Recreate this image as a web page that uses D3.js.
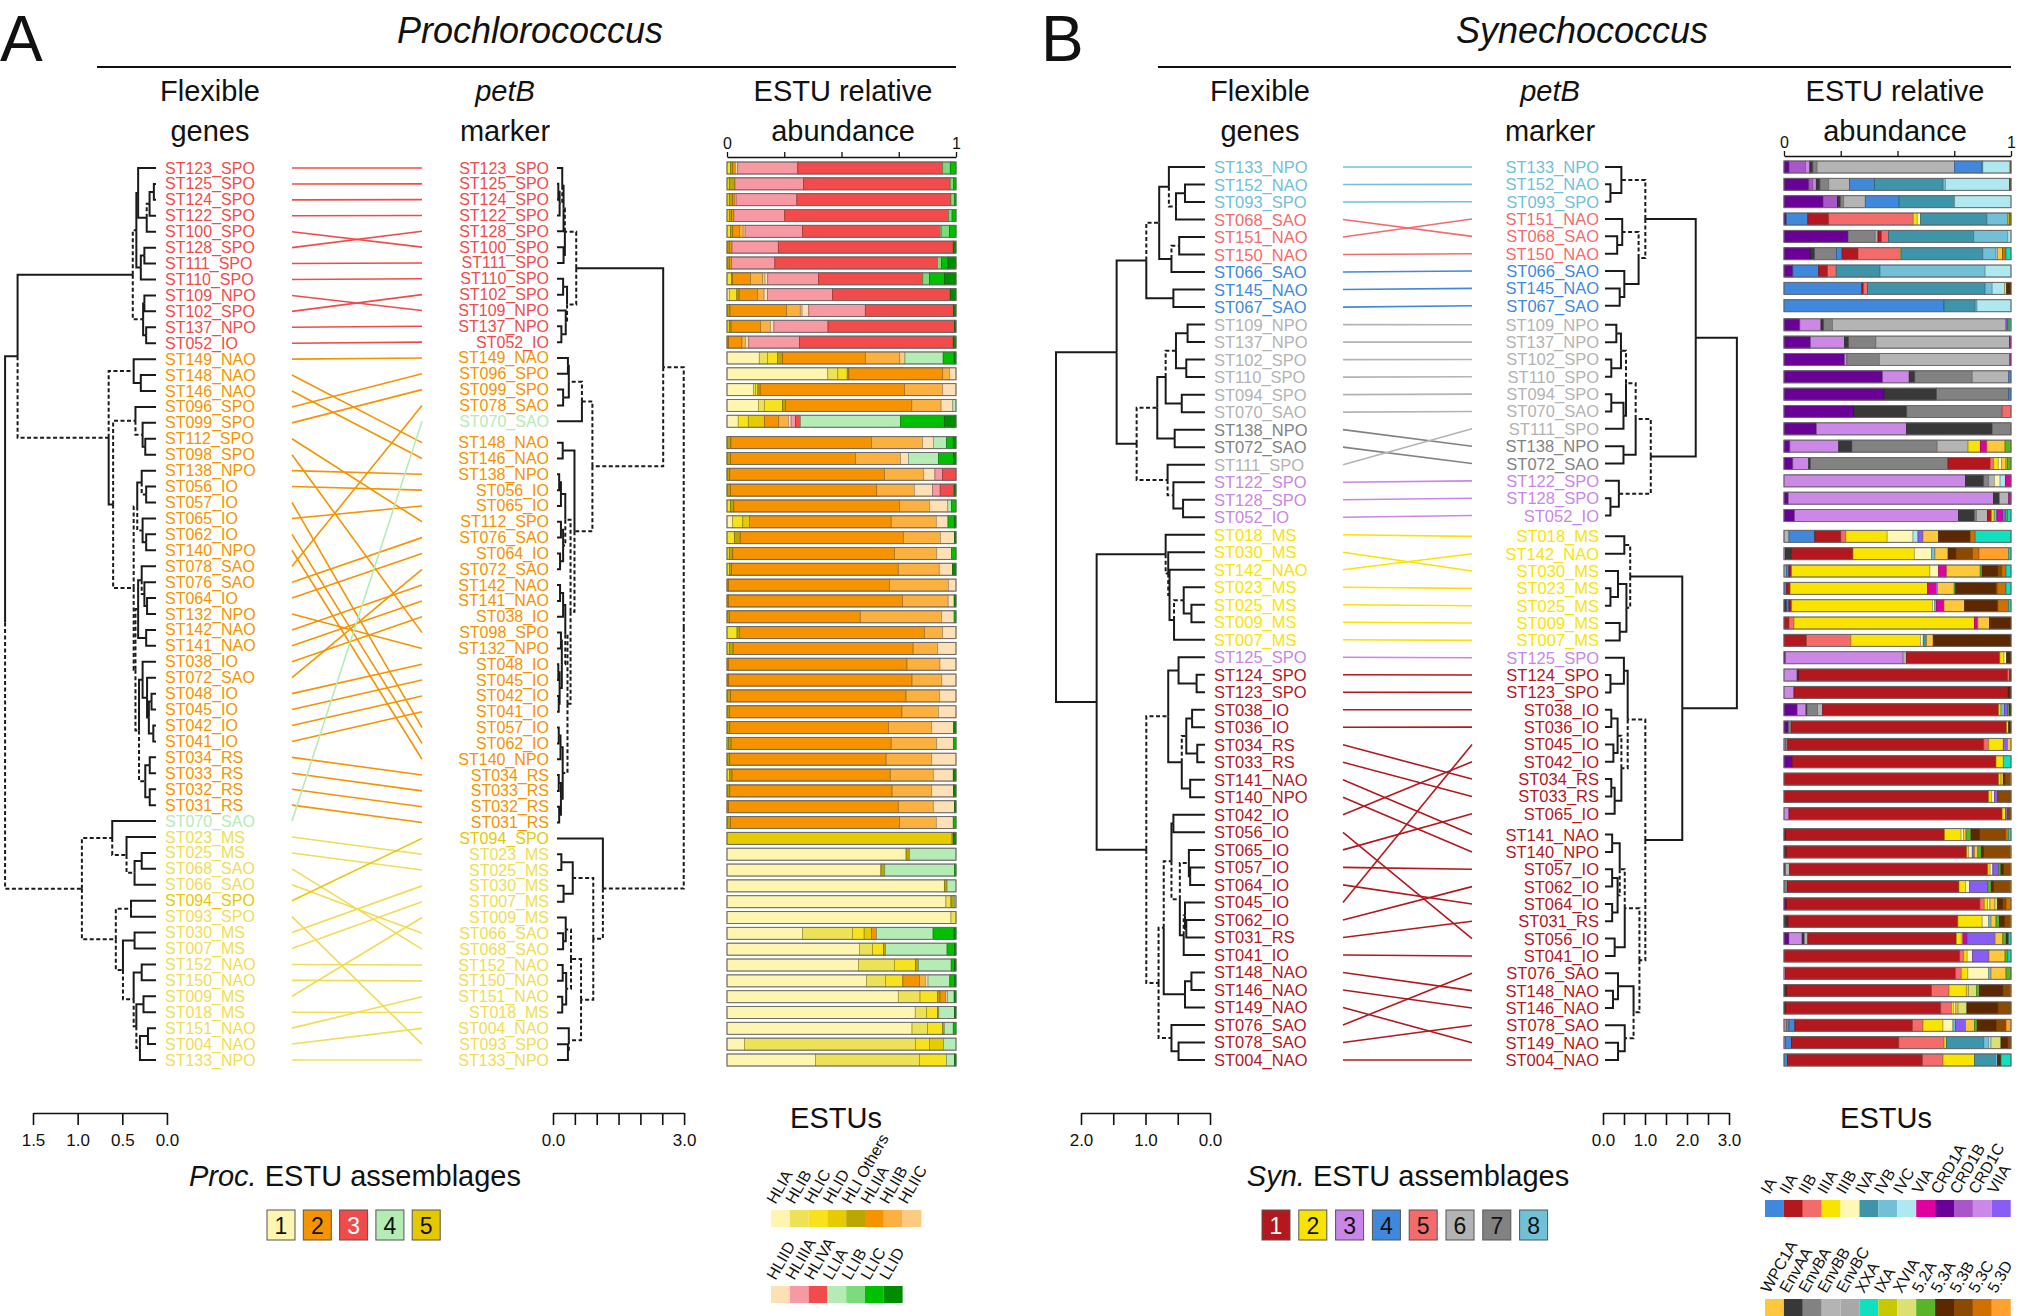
<!DOCTYPE html>
<html>
<head>
<meta charset="utf-8">
<script src="https://cdn.jsdelivr.net/npm/d3@7"></script>
<style>
  body { margin: 0; background: #fff; }
  svg { font-family: "Liberation Sans", Arial, sans-serif; }
</style>
</head>
<body>
<svg id="fig" width="2025" height="1316"></svg>
<script>
// ---------- DATA ----------

// Prochlorococcus: station order of the two trees
const PROC_LEFT = ["ST123_SPO","ST125_SPO","ST124_SPO","ST122_SPO","ST100_SPO","ST128_SPO","ST111_SPO","ST110_SPO","ST109_NPO","ST102_SPO","ST137_NPO","ST052_IO",
  "ST149_NAO","ST148_NAO","ST146_NAO","ST096_SPO","ST099_SPO","ST112_SPO","ST098_SPO","ST138_NPO","ST056_IO","ST057_IO","ST065_IO","ST062_IO","ST140_NPO",
  "ST078_SAO","ST076_SAO","ST064_IO","ST132_NPO","ST142_NAO","ST141_NAO","ST038_IO","ST072_SAO","ST048_IO","ST045_IO","ST042_IO","ST041_IO",
  "ST034_RS","ST033_RS","ST032_RS","ST031_RS","ST070_SAO","ST023_MS","ST025_MS","ST068_SAO","ST066_SAO","ST094_SPO","ST093_SPO","ST030_MS","ST007_MS",
  "ST152_NAO","ST150_NAO","ST009_MS","ST018_MS","ST151_NAO","ST004_NAO","ST133_NPO"];
const PROC_LEFT_GROUP = [3,3,3,3,3,3,3,3,3,3,3,3,
  2,2,2,2,2,2,2,2,2,2,2,2,2, 2,2,2,2,2,2,2,2,2,2,2,2, 2,2,2,2,
  4, 1,1,1,1, 5, 1,1,1,1,1,1,1,1,1,1];
const PROC_RIGHT = ["ST123_SPO","ST125_SPO","ST124_SPO","ST122_SPO","ST128_SPO","ST100_SPO","ST111_SPO","ST110_SPO","ST102_SPO","ST109_NPO","ST137_NPO","ST052_IO",
  "ST149_NAO","ST096_SPO","ST099_SPO","ST078_SAO","ST070_SAO","ST148_NAO","ST146_NAO","ST138_NPO","ST056_IO","ST065_IO","ST112_SPO","ST076_SAO","ST064_IO",
  "ST072_SAO","ST142_NAO","ST141_NAO","ST038_IO","ST098_SPO","ST132_NPO","ST048_IO","ST045_IO","ST042_IO","ST041_IO","ST057_IO","ST062_IO","ST140_NPO",
  "ST034_RS","ST033_RS","ST032_RS","ST031_RS","ST094_SPO","ST023_MS","ST025_MS","ST030_MS","ST007_MS","ST009_MS","ST066_SAO","ST068_SAO",
  "ST152_NAO","ST150_NAO","ST151_NAO","ST018_MS","ST004_NAO","ST093_SPO","ST133_NPO"];
const PROC_RIGHT_GAPS = [[17, 0.35]];

// trees: [height, dashed, child, child], leaves = row number (1-based)
const PROC_LEFT_TREE =
[1.69,0,
  [1.55,0,
    [0.26,0,
      [0.22,1,
        [0.2,0, 1, [0.104,0, [0.072,1, [0.024,0,2,3], 4], 5]],
        [0.17,0, [0.13,0,6,7], 8]],
      [0.144,1, [0.13,0,9,10], [0.11,0,11,12]]],
    [0.53,1,
      [0.25,1, 13, [0.17,0,14,15]],
      [0.48,0,
        [0.23,1, 16, [0.15,1, 17, [0.12,0,18,19]]],
        [0.25,1,
          [0.21,1, [0.16,0, 20, [0.11,1,21,22]], [0.15,1, 23, [0.11,0,24,25]]],
          [0.23,1,
            [0.2,1, [0.16,0, 26, [0.13,1, 27, [0.1,0,28,29]]], [0.11,0,30,31]],
            [0.19,1,
              [0.15,0, 32, [0.1,0, 33, [0.08,0, [0.05,0,34,35], [0.03,0,36,37]]]],
              [0.12,1, [0.07,0,38,39], [0.07,0,40,41]]]]]]]],
  [0.83,1,
    [0.49,1, 42, [0.33,1, 43, [0.24,1, [0.16,0,44,45], 46]]],
    [0.45,1,
      [0.28,1,47,48],
      [0.37,1, [0.24,0,49,50],
        [0.25,1, [0.16,0,51,52],
          [0.22,1, [0.14,0,53,54], [0.18,1, [0.09,0,55,56], 57]]]]]]];

const PROC_RIGHT_TREE =
[2.9,0,
  [2.43,1,
    [0.44,0,
      [0.18,1,
        [0.15,1, [0.12,0, 1, [0.06,1, [0.03,0,2,3], 4]], 5],
        [0.15,0,6,7]],
      [0.23,1, [0.14,0,8,9], [0.2,1, 10, [0.1,0,11,12]]]],
    [0.81,1,
      [0.57,1, [0.27,1, [0.25,0,13,14], [0.14,0,15,16]], 17],
      [0.4,1,
        [0.13,0,18,19],
        [0.31,1,
          [0.19,1, [0.09,0, [0.05,0,20,21], 22], [0.14,1, [0.09,0,23,24], [0.07,0,25,26]]],
          [0.24,1,
            [0.19,1, [0.14,0, [0.07,0,27,28], 29], [0.11,1, [0.09,0,30,31], [0.06,0, [0.03,0,32,33], [0.04,0,34,35]]]],
            [0.13,1, [0.08,0, [0.04,0,36,37], 38], [0.09,0, [0.04,0,39,40], [0.05,0,41,42]]]]]]]],
  [1.05,1,
    43,
    [0.83,1,
      [0.36,1, [0.1,0,44,45], [0.15,0,46,47]],
      [0.55,1,
        [0.32,1, [0.2,1, 48, [0.14,0,49,50]], [0.21,1, [0.13,0,51,52], [0.12,0,53,54]]],
        [0.27,1, 55, [0.25,1,56,57]]]]]];

const PROC_GROUP_COLORS = ["#FDF6B0", "#F59300", "#F04B4B", "#B5EBB5", "#E6C800"];
const PROC_TEXT_COLORS  = ["#F0DC55", "#F59300", "#F04B4B", "#B5EBB5", "#E6C800"];

const PROC_ESTU = ["HLIA","HLIB","HLIC","HLID","HLI Others","HLIIA","HLIIB","HLIIC",
                   "HLIID","HLIIIA","HLIVA","LLIA","LLIB","LLIC","LLID"];
const PROC_ESTU_COLORS = ["#FDF5B0","#EDE157","#F8E21E","#E6CB00","#BBA600","#F59300","#FBB03F","#FDCB80",
                          "#FDE0B6","#F799A2","#F24B4B","#B5EBB5","#7CDB7C","#00C000","#008C00"];
const PROC_LEGEND_ROWS = [8, 7];

// relative abundance (%) per petB-ordered station, ESTU order as PROC_ESTU
const PROC_BARS = [
  [0,0,1.5,0,1,1.2,0,0,1,26.2,63.3,0,3.3,2.5,0],
  [0,0,1,0,2.5,0,0,0,0,30,64,0,1.5,1,0],
  [0,0,1,0,1.5,1,0,0,0.5,26.5,67.3,0,1.5,0.7,0],
  [0,0,1,0,1,1,0,0,0,22.2,71.6,0,1.5,1.7,0],
  [0,0,1.5,0,1,2.9,1.7,0,0.8,25,60.3,0.5,3.4,2.9,0],
  [0,0,0,0,1,1.2,0,0,0,20.2,76.4,0,0,0,1.2],
  [0,0,0,0,1,1,0,0,0,18.9,71,0,1.7,2.9,3.5],
  [0,0,1.9,0,0.6,7.7,5.4,1,1.2,22.1,45.6,0,2.9,6.6,5],
  [1,0,3.3,0,1,8,2.9,0,1.5,28.4,51.4,0,0,0,2.5],
  [0,0,0,0,1.3,24.7,6,0.8,2.9,24.7,38.6,0,0,0,1],
  [0,0,1,0,0.8,12.8,4.4,0,1.5,23.6,55.3,0,0,0,0.6],
  [0,0,0,0,0.7,5.8,1.5,0,1.5,22.1,67.2,0,0,0,1.2],
  [14.1,3.6,4.4,0,2.2,36.1,15,2.3,0,0,0,16.7,0,4.8,0.8],
  [44,4.4,4.1,0,0.7,41,2.9,0,2.9,0,0,0,0,0,0],
  [11.5,1,1,0,1,63,16.7,0,5.8,0,0,0,0,0,0],
  [13.7,2.6,8,0,1.2,55.2,12.8,0,5.1,0,0,1.4,0,0,0],
  [4.9,0,4.4,7,0,6.3,4.2,0,1.2,1.9,2.2,43.7,0,19.1,5.1],
  [0,0,0,0,1.7,61.4,22.3,0,4.7,0,0,5.8,0,2.9,1.2],
  [0,0,0,0,1.5,54.6,19.7,0,3.5,0,0,13.1,0,6.5,1.1],
  [0,0,0,0,1.2,67.5,17.2,0,4.9,3.3,5.9,0,0,0,0],
  [0,0,0,0,1.5,63.9,16.4,0,8,3.3,6.1,0,0,0,0.8],
  [0,0,1.5,0,1.5,72.3,13.1,0,8,0,0,1.7,0,1.9,0],
  [2.5,0,4.4,2.9,0,61.9,19.7,0,5.1,0,0,0,0,2.9,0.6],
  [0,0,3.2,0,2.6,71.2,16.2,0,6.1,0,0,0,0,0,0.7],
  [0,0,1,0,1.5,70.6,18.5,0,6.5,0,0,0,0,1.9,0],
  [0,0,1.2,0,0.8,72.8,17.9,0,5.8,0,0,0,0,0,1.5],
  [0,0,0,0,0.6,70.3,25.8,0,3.3,0,0,0,0,0,0],
  [0,0,0,0,0.6,76.1,19.9,0,2.6,0,0,0,0,0,0.8],
  [0,0,0,0,1,57.2,35.5,0,5.5,0,0,0,0,0.8,0],
  [0,0,4.4,0,1,80.8,8,0,5.8,0,0,0,0,0,0],
  [0,0,1,0,1.7,78.6,10.6,0,8.1,0,0,0,0,0,0],
  [0,0,0,0,0.6,78,14.4,0,7,0,0,0,0,0,0],
  [0,0,0,0,0.6,80.2,13,0,6.2,0,0,0,0,0,0],
  [0,0,0,0,1.5,76.7,14.6,0,7.2,0,0,0,0,0,0],
  [0,0,0,0,1,75.4,15.9,0,7.7,0,0,0,0,0,0],
  [0,0,0,0,1.2,69.3,18.9,0,9.6,0,0,0,0,0,1],
  [0,0,0.6,0,1.2,69.9,19.9,0,7.3,0,0,0,0,1.1,0],
  [0,0,0,0,1.2,68.3,19.9,0,10.6,0,0,0,0,0,0],
  [0,0,1.2,0,1,69.1,18.8,0,8.7,0,0,0,0,0,1.2],
  [0,0,0,0,1.2,70.9,17.3,0,9.5,0,0,0,0,0,1.1],
  [0,0,0,0,0.6,74.2,15.3,0,9.2,0,0,0,0,0,0.7],
  [0,0,0,0,1.5,73.9,16,0,7.4,0,0,0,0,1.2,0],
  [0,0,0,98.3,0.6,0,0,0,0,0,0,0,0,0,1.1],
  [78.2,0,0,0,1.5,0,0,0,0,0,0,20.3,0,0,0],
  [67.2,0,0,0,1.7,0,0,0,0,0,0,30.4,0,0.7,0],
  [94.9,0,0,0,1.2,0,0,0,0,0,0,3.9,0,0,0],
  [95.6,2.2,0,0,1.5,0,0,0,0,0,0,0.7,0,0,0],
  [97.8,2.2,0,0,0,0,0,0,0,0,0,0,0,0,0],
  [33,21.8,5.1,3.2,0,2.2,0,0,0,0,0,24.7,0,9.2,0.8],
  [57.8,5.8,4.7,0,0.9,0,0,0,0,0,0,26.9,0,3.2,0.7],
  [57.4,15.7,9.2,0,1.3,0,0,0,0,0,0,14.3,0,1.5,0.6],
  [61,8.2,7.6,0,0,7.3,2.5,0,1.2,0,0,9.5,0,2.2,0.5],
  [74.8,9.5,7.7,0,1,2.6,0,0,0.7,0,0,2.9,0,0,0.8],
  [82.2,5,4.8,0,0.5,0,0,0,0,0,0,6.8,0,0,0.7],
  [80.8,6.8,6.6,0,0.7,0,0,0,0,0,0,3.9,0,1.2,0],
  [7.6,74.7,6.1,6.2,0,0,0,0,0,0,0,5.4,0,0,0],
  [38.6,45.4,11.9,0,0,0,0,0,0,0,0,3.4,0,0,0.7]
];

// Synechococcus
const SYN_LEFT = ["ST133_NPO","ST152_NAO","ST093_SPO","ST068_SAO","ST151_NAO","ST150_NAO","ST066_SAO","ST145_NAO","ST067_SAO",
  "ST109_NPO","ST137_NPO","ST102_SPO","ST110_SPO","ST094_SPO","ST070_SAO","ST138_NPO","ST072_SAO","ST111_SPO","ST122_SPO","ST128_SPO","ST052_IO",
  "ST018_MS","ST030_MS","ST142_NAO","ST023_MS","ST025_MS","ST009_MS","ST007_MS","ST125_SPO","ST124_SPO","ST123_SPO",
  "ST038_IO","ST036_IO","ST034_RS","ST033_RS","ST141_NAO","ST140_NPO","ST042_IO","ST056_IO","ST065_IO","ST057_IO","ST064_IO",
  "ST045_IO","ST062_IO","ST031_RS","ST041_IO","ST148_NAO","ST146_NAO","ST149_NAO","ST076_SAO","ST078_SAO","ST004_NAO"];
const SYN_LEFT_GROUP = [8,8,8,5,5,5,4,4,4,6,6,6,6,6,6,7,7,6,3,3,3,2,2,2,2,2,2,2,3,
  1,1,1,1,1,1,1,1,1,1,1,1,1,1,1,1,1,1,1,1,1,1,1];
const SYN_RIGHT = ["ST133_NPO","ST152_NAO","ST093_SPO","ST151_NAO","ST068_SAO","ST150_NAO","ST066_SAO","ST145_NAO","ST067_SAO",
  "ST109_NPO","ST137_NPO","ST102_SPO","ST110_SPO","ST094_SPO","ST070_SAO","ST111_SPO","ST138_NPO","ST072_SAO","ST122_SPO","ST128_SPO","ST052_IO",
  "ST018_MS","ST142_NAO","ST030_MS","ST023_MS","ST025_MS","ST009_MS","ST007_MS","ST125_SPO","ST124_SPO","ST123_SPO",
  "ST038_IO","ST036_IO","ST045_IO","ST042_IO","ST034_RS","ST033_RS","ST065_IO","ST141_NAO","ST140_NPO","ST057_IO","ST062_IO",
  "ST064_IO","ST031_RS","ST056_IO","ST041_IO","ST076_SAO","ST148_NAO","ST146_NAO","ST078_SAO","ST149_NAO","ST004_NAO"];
const SYN_RIGHT_GAPS = [[9, 0.1], [21, 0.2], [38, 0.2]];

const SYN_LEFT_TREE =
[2.31,0,
  [1.37,0,
    [0.91,0,
      [0.71,1,
        [0.56,0, 1, [0.45,1, [0.31,0,2,3], 4]],
        [0.52,0, [0.40,1,5,6], 7]],
      [0.49,0,8,9]],
    [1.06,0,
      [0.74,1,
        [0.61,0, [0.45,1, [0.27,0,10,11], [0.29,0,12,13]], [0.36,0,14,15]],
        [0.47,0,16,17]],
      [0.58,1, 18, [0.49,1, 19, [0.34,0,20,21]]]]],
  [1.68,0,
    [0.61,0, 22, [0.57,1, 23, [0.55,1, 24, [0.48,0, [0.33,1, 25, [0.21,0,26,27]], 28]]]],
    [0.91,0,
      [0.57,1,
        [0.41,0, 29, [0.13,0,30,31]],
        [0.36,0, [0.29,1, [0.2,0,32,33], [0.12,0,34,35]], [0.23,0,36,37]]],
      [0.72,1,
        [0.64,1,
          [0.52,1, [0.49,0,38,39], [0.39,1, [0.25,1, 40, [0.23,0,41,42]], [0.33,0, [0.31,1, 43, [0.29,0,44,45]], 46]]],
          [0.31,0, [0.21,0,47,48], 49]],
        [0.52,1, 50, [0.41,0,51,52]]]]]];

const SYN_RIGHT_TREE =
[3.14,0,
  [2.16,0,
    [0.96,0,
      [0.39,1, 1, [0.13,0,2,3]],
      [0.8,1, [0.41,1, 4, [0.29,0,5,6]], [0.46,0, 7, [0.35,0,8,9]]]],
    [1.09,0,
      [0.73,1,
        [0.5,1, [0.38,1, [0.27,0,10,11], [0.15,0,12,13]], [0.44,0, [0.15,0,14,15], 16]],
        [0.44,0,17,18]],
      [0.33,1, 19, [0.13,0,20,21]]]],
  [1.84,0,
    [0.6,0, [0.46,1,22,23], [0.51,1, [0.31,0, 24, [0.13,0,25,26]], [0.35,0,27,28]]],
    [0.96,0,
      [0.54,1, [0.45,0, 29, [0.13,0,30,31]], [0.39,1, [0.3,1, [0.15,0,32,33], [0.2,0,34,35]], [0.23,0, [0.15,0,36,37], 38]]],
      [0.82,1,
        [0.47,1, [0.35,1, [0.17,0,39,40], [0.3,1, [0.17,0,41,42], [0.17,0,43,44]]], [0.23,0,45,46]],
        [0.68,1, [0.31,0, 47, [0.19,0,48,49]], [0.47,1, 50, [0.31,0,51,52]]]]]]];

const SYN_GROUP_COLORS = ["#B2181E", "#F8E400", "#C986E6", "#3F88DC", "#F46B6B", "#B3B3B3", "#828282", "#70C0D8"];

const SYN_ESTU = ["IA","IIA","IIB","IIIA","IIIB","IVA","IVB","IVC","VIA","CRD1A","CRD1B","CRD1C","VIIA",
                  "WPC1A","EnvAA","EnvBA","EnvBB","EnvBC","XXA","IXA","XVIA","5.2A","5.3A","5.3B","5.3C","5.3D"];
const SYN_ESTU_COLORS = ["#3F88DC","#B2181E","#F46B6B","#F8E400","#FEF7B6","#3E94A8","#72C0D8","#B0E8F0","#E000A0","#6B0098","#A957C8","#CC88E6","#8A5CF6",
                         "#FFC83C","#383838","#828282","#B4B4B4","#A8A8A8","#10E0C0","#C8C800","#DCE070","#5AB428","#5C2800","#8C4A00","#D07000","#FFA030"];
const SYN_LEGEND_ROWS = [13, 13];
// order in which ESTUs are stacked inside each bar
const SYN_STACK = ["CRD1A","CRD1B","CRD1C","EnvAA","EnvBA","EnvBB","EnvBC","IA","IIA","IIB","IIIA","IIIB","IVA","IVB","IVC",
                   "VIA","VIIA","WPC1A","IXA","XVIA","5.2A","5.3A","5.3B","5.3C","5.3D","XXA"];
const SYN_BARS = [
  {CRD1A:2.2,CRD1B:7.3,CRD1C:1.9,EnvAA:1.3,EnvBA:1.9,EnvBB:60.6,IA:12.1,IVA:0.3,IVC:12,"5.3B":0.4},
  {CRD1A:10.9,CRD1B:1.8,CRD1C:1.5,EnvAA:1.6,EnvBA:3.9,EnvBB:9.2,IA:10.9,IVA:30.2,IVB:1,IVC:28.2,"5.3B":0.7},
  {CRD1A:17.2,CRD1B:6.4,EnvAA:1.2,EnvBA:1.5,EnvBB:9.5,IA:14.9,IVA:24.5,IVC:24.8},
  {CRD1A:1,IA:9.5,IIA:9.2,IIB:37.2,IIIA:1.8,IIIB:1.5,IVA:29.2,IVB:9.2,IXA:0.7,"5.3C":0.7},
  {CRD1A:28.2,EnvBA:12,EnvBB:1.2,IIA:1.5,IIB:3.2,IVA:37.5,IVB:15,IVC:1.4},
  {CRD1A:11.7,EnvAA:1.8,EnvBA:9.6,IA:2.5,IIA:7,IIB:18.2,IIIA:0.7,IVA:36.1,IVB:5.8,IVC:0.7,WPC1A:2.2,"5.3C":1.5,XXA:2.2},
  {CRD1A:3.9,IA:11.4,IIA:3.9,IIB:3.8,IVA:19.3,IVB:46.3,IVC:11.4},
  {IA:34.3,IIA:0.7,IIB:1.8,IVA:51.8,IVB:3.1,IVC:5.4,"5.3A":1.9,XVIA:1},
  {IA:70.5,IVA:13.7,IVB:0.8,IVC:15},
  {CRD1A:7,CRD1C:9.3,EnvAA:1.2,EnvBA:3.9,EnvBB:76.4,VIIA:0.7,"5.2A":0.7,XXA:0.8},
  {CRD1A:11.7,CRD1C:15,EnvAA:1.8,EnvBA:12,EnvBB:58.8,VIA:0.7},
  {CRD1A:26.7,CRD1C:1,EnvBA:14.3,EnvBB:57.5,VIA:0.5},
  {CRD1A:43.5,CRD1C:11.7,EnvAA:2.5,EnvBA:25.3,EnvBB:16.1,IA:1},
  {CRD1A:44.1,EnvAA:23.1,EnvBA:31.8,IA:1},
  {CRD1A:30.7,EnvAA:23.4,EnvBA:42,IIB:3.9},
  {CRD1A:14.3,CRD1C:39.7,EnvAA:37.7,EnvBA:8.3},
  {CRD1A:2.6,CRD1C:21.5,EnvAA:5.8,EnvBA:37.5,EnvBB:13.6,IIIA:5.4,VIA:2.9,WPC1A:8,"5.2A":2.6},
  {CRD1A:3.9,CRD1C:7,EnvAA:0.7,EnvBA:60.6,IIA:18.5,IIB:1.6,IIIA:2,IIIB:1.5,WPC1A:1.9,IXA:0.7,"5.2A":1.5},
  {CRD1C:80,EnvAA:7.9,EnvBA:2.3,EnvBB:2.5,IIIB:2.5,IVC:2.3,VIA:2.5},
  {CRD1A:1.9,CRD1C:90.4,EnvAA:2.6,EnvBB:4.1,VIA:1},
  {CRD1A:4.7,CRD1C:72.2,EnvAA:6.9,EnvBA:1,EnvBB:4.8,IIA:1.8,IIIA:1.2,IVB:1.2,VIA:2.5,VIIA:1.2,"5.2A":1,XXA:1.5},
  {EnvBB:2.2,IA:11.4,IIA:11.5,IIB:2.2,IIIA:18.2,IIIB:11.4,IVC:2.2,VIIA:2.2,WPC1A:6.9,"5.3A":13.9,"5.3C":2.2,XXA:15.8},
  {CRD1C:0.7,EnvAA:2.5,IIA:27.2,IIIA:27,IIIB:7.6,IVB:1.5,WPC1A:5.8,"5.3A":3.4,"5.3B":7.3,"5.3C":2.9,"5.3D":13.1,XXA:1},
  {EnvBB:1,IA:1.2,IIA:1.2,IIIA:61.5,IIIB:3.9,VIA:3.6,WPC1A:14.9,"5.2A":0.9,"5.3A":6.9,"5.3B":1.8,"5.3C":1.9,XXA:2.2},
  {IA:1.2,IIA:1.5,IIIA:60.4,VIIA:0.9,VIA:3.5,WPC1A:7.4,"5.2A":0.7,"5.3A":17.5,"5.3B":0.7,"5.3C":3.9,XXA:2.2},
  {EnvAA:1.2,IA:1,IIA:1.2,IIIA:62,IIIB:1,IVB:0.7,VIA:3.4,WPC1A:9.1,"5.3A":14.6,"5.3C":4.8,XXA:1},
  {IIA:2.2,IIB:2.2,IIIA:79.6,VIA:1.5,WPC1A:5.1,"5.3A":9.5},
  {IIA:9.9,IIB:19.6,IIIA:30.7,IIIB:1.2,IVA:1.5,WPC1A:2.9,"5.3A":34.3},
  {CRD1A:0.7,CRD1C:51.8,EnvBB:1.5,IIA:41.2,IIIA:1.8,IIIB:1.2,"5.3A":1.9},
  {CRD1C:5.8,EnvAA:0.7,IIA:92,IIB:1,"5.3A":0.5},
  {CRD1C:4.4,IIA:94.4,"5.3A":1.2},
  {CRD1A:5.8,CRD1C:3.9,EnvAA:0.4,EnvBA:4.7,EnvBB:2.2,IIA:77.5,IIIA:1,IVB:1.5,VIIA:1.5,"5.2A":0.7,"5.3A":0.7},
  {CRD1A:1.9,EnvBA:1.3,IIA:94.9,IIIA:0.9,"5.3A":1},
  {CRD1C:0.7,EnvBA:1,IIA:86.3,IIB:2.2,IIIA:6.4,VIIA:1.9,WPC1A:1.5},
  {CRD1A:3.6,IIA:89.8,IIIA:3.2,XXA:3.4},
  {IIA:94.6,IIIA:1,WPC1A:1,"5.3A":0.7,"5.3B":2,"5.3C":0.7},
  {IIA:90.2,IIIA:1.3,IIIB:1.2,VIIA:1.5,"5.3B":5.8},
  {CRD1C:2.2,IIA:93.9,IIIA:1.5,VIIA:1,"5.3B":1.4},
  {EnvAA:0.7,IIA:70.1,IIIA:7.3,IIIB:1,WPC1A:1.2,"5.2A":2.2,"5.3A":3.7,"5.3B":11.4,"5.3C":1.5,XXA:1},
  {EnvAA:1,IIA:79.6,IIIA:0.9,IIIB:1.5,VIIA:1,WPC1A:1.5,"5.2A":1.5,"5.3A":1,"5.3B":11.4,"5.3C":0.7},
  {EnvAA:0.7,IIA:87.3,IIIA:1,IIIB:1.2,EnvBB:1.8,VIIA:2.6,"5.2A":1,"5.3A":1,"5.3B":2.9,"5.3C":0.5},
  {EnvBA:1.5,IIA:75.6,IIIA:2.9,IIIB:1.8,VIIA:8,"5.2A":1.5,"5.3A":1,"5.3B":7,"5.3C":0.7},
  {CRD1A:1,IIA:85.4,IIB:1.9,IIIA:1.5,IIIB:1,XVIA:1.2,WPC1A:2.2,"5.3A":2.2,"5.3B":1.5,"5.3C":2.2},
  {EnvAA:1.8,IIA:74.9,IIIA:10.7,IIIB:2.9,IVB:1,WPC1A:2.2,"5.2A":1.5,"5.3A":2.2,"5.3B":2.2,"5.3C":0.7},
  {CRD1A:2.2,CRD1C:5.8,EnvAA:1,EnvBB:1.5,IIA:65.4,IIIA:2.2,IIIB:0.7,VIA:1.8,VIIA:12.4,WPC1A:3.4,"5.2A":1.5,"5.3A":1.1,XXA:1},
  {IIA:77.4,IIB:1.8,IIIA:1.5,IIIB:2.3,VIIA:7.3,WPC1A:7.1,"5.2A":1.2,XXA:1.4},
  {CRD1C:0.7,IIA:74.7,IIB:2.6,IIIA:2.9,IIIB:9.2,IVB:1,WPC1A:6.6,"5.2A":2.2},
  {EnvAA:1.2,IIA:63.8,IIB:7.7,IIIA:7.6,WPC1A:1,"5.2A":1.2,"5.3A":10.3,"5.3B":2.9,"5.3C":0.7,XVIA:3.6},
  {EnvAA:0.7,IIA:68.3,IIB:4.7,IIIA:1,IIIB:0.9,WPC1A:1,"5.3A":13.6,"5.3B":5.8,XVIA:3.9},
  {CRD1C:1,EnvBA:1.2,IA:2.6,IIA:51.8,IIB:4.7,IIIA:8.8,IIIB:4.4,IVB:1.2,VIIA:4.4,WPC1A:3.9,"5.2A":1.2,"5.3A":8.3,"5.3B":4.4,"5.3D":2.2},
  {CRD1C:0.7,IA:2.6,IIA:47.3,IIB:19.9,IIIA:1,IVA:16.5,IVB:2.2,IVC:1,"5.3A":2.9,"5.3B":1.5,XVIA:4.4},
  {IA:1.5,IIA:59.6,IIB:9.1,IIIA:13.9,IVB:1,IVA:9.2,"5.3A":1.5,XXA:4.4}
];

// scale bars below the trees: tick values and which of them carry a label
const PROC_LEFT_BAR = {ticks: [1.5, 1.0, 0.5, 0.0], labels: [1.5, 1.0, 0.5, 0.0]};
const PROC_RIGHT_BAR = {ticks: [0, 0.5, 1, 1.5, 2, 2.5, 3], labels: [0, 3]};
const SYN_LEFT_BAR = {ticks: [2, 1.5, 1, 0.5, 0], labels: [2, 1, 0]};
const SYN_RIGHT_BAR = {ticks: [0, 0.5, 1, 1.5, 2, 2.5, 3], labels: [0, 1, 2, 3]};

// ---------- DRAWING ----------

const svg = d3.select("#fig");
const FONT_NARROW = "'Liberation Sans Narrow', 'Liberation Sans', Arial, sans-serif";

function rowScale(n, top, bottom, gaps) {
  const totalGap = d3.sum(gaps || [], (g) => g[1]);
  const step = (bottom - top) / (n - 1 + totalGap);
  return (i) => {
    const extra = d3.sum((gaps || []).filter((g) => i >= g[0]), (g) => g[1]);
    return top + (i + extra) * step;
  };
}

function toNode(a) {
  if (typeof a === "number") return { leaf: a };
  return { h: a[0], dashed: a[1], children: a.slice(2).map(toNode) };
}

function drawTree(g, treeArr, yOf, xOf) {
  const root = d3.hierarchy(toNode(treeArr));
  root.eachAfter((d) => {
    if (!d.children) {
      d.py = yOf(d.data.leaf - 1);
      d.px = xOf(0);
    } else {
      d.py = (d.children[0].py + d.children[d.children.length - 1].py) / 2;
      d.px = xOf(d.data.h);
    }
  });
  g.selectAll("path.edge")
    .data(root.descendants().filter((d) => d.parent))
    .join("path")
    .attr("class", "edge")
    .attr("d", (d) => `M${d.parent.px},${d.parent.py}V${d.py}H${d.px}`)
    .attr("fill", "none")
    .attr("stroke", "#1a1a1a")
    .attr("stroke-width", 2)
    .attr("stroke-dasharray", (d) => (d.data.dashed ? "4,2.5" : null));
}

function drawScaleBar(g, bar, domain, range, y) {
  const s = d3.scaleLinear().domain(domain).range(range);
  const axis = d3.axisBottom(s)
    .tickValues(bar.ticks)
    .tickSize(12)
    .tickSizeOuter(0)
    .tickPadding(9)
    .tickFormat((d) => (bar.labels.includes(d) ? d3.format(".1f")(d) : ""));
  const ax = g.append("g").attr("transform", `translate(0,${y})`).call(axis);
  ax.selectAll("path, line").attr("stroke", "#111").attr("stroke-width", 1.6);
  ax.selectAll("text")
    .attr("fill", "#111")
    .style("font-family", FONT_NARROW)
    .style("font-size", "17px");
}

function drawPanel(cfg) {
  const g = svg.append("g");
  const n = cfg.left.length;
  const yL = rowScale(n, cfg.top, cfg.bottom, []);
  const yR = rowScale(n, cfg.top, cfg.bottom, cfg.rightGaps);
  const groupOf = new Map(cfg.left.map((s, i) => [s, cfg.leftGroup[i]]));
  const colorOf = (s) => cfg.textColors[groupOf.get(s) - 1];

  // trees
  drawTree(g.append("g"), cfg.leftTree, yL, (h) => cfg.leftLeafX - h * cfg.leftPPU);
  drawTree(g.append("g"), cfg.rightTree, yR, (h) => cfg.rightLeafX + h * cfg.rightPPU);

  // labels
  g.append("g").selectAll("text")
    .data(cfg.left)
    .join("text")
    .attr("x", cfg.leftLabelX)
    .attr("y", (d, i) => yL(i))
    .attr("dominant-baseline", "central")
    .attr("fill", (d) => colorOf(d))
    .style("font-size", cfg.fontSize + "px")
    .text((d) => d);

  g.append("g").selectAll("text")
    .data(cfg.right)
    .join("text")
    .attr("x", cfg.rightLabelX)
    .attr("y", (d, i) => yR(i))
    .attr("text-anchor", "end")
    .attr("dominant-baseline", "central")
    .attr("fill", (d) => colorOf(d))
    .style("font-size", cfg.fontSize + "px")
    .text((d) => d);

  // tanglegram links
  g.append("g").selectAll("line")
    .data(cfg.left)
    .join("line")
    .attr("x1", cfg.linkX[0])
    .attr("x2", cfg.linkX[1])
    .attr("y1", (d, i) => yL(i))
    .attr("y2", (d) => yR(cfg.right.indexOf(d)))
    .attr("stroke", (d) => colorOf(d))
    .attr("stroke-width", 1.6);

  // stacked bars
  const xb = d3.scaleLinear().domain([0, 1]).range(cfg.barX);
  const estuColor = new Map(cfg.estu.map((e, i) => [e, cfg.estuColors[i]]));
  const barG = g.append("g");
  cfg.bars.forEach((vals, i) => {
    const total = d3.sum(vals, (v) => v[1]);
    let acc = 0;
    const segs = vals.filter((v) => v[1] > 0).map((v) => {
      const s = { key: v[0], x0: acc / total, x1: (acc + v[1]) / total };
      acc += v[1];
      return s;
    });
    const row = barG.append("g");
    row.selectAll("rect")
      .data(segs)
      .join("rect")
      .attr("x", (d) => xb(d.x0))
      .attr("width", (d) => Math.max(0.6, xb(d.x1) - xb(d.x0)))
      .attr("y", yR(i) - cfg.barH / 2)
      .attr("height", cfg.barH)
      .attr("fill", (d) => estuColor.get(d.key))
      .attr("stroke", (d) => d3.color(estuColor.get(d.key)).darker(1.3))
      .attr("stroke-width", 0.7);
    row.append("rect")
      .attr("x", xb(0))
      .attr("width", xb(1) - xb(0))
      .attr("y", yR(i) - cfg.barH / 2)
      .attr("height", cfg.barH)
      .attr("fill", "none")
      .attr("stroke", "#6b6b6b")
      .attr("stroke-width", 1);
  });

  const topAxis = d3.axisTop(xb)
    .tickValues([0, 0.25, 0.5, 0.75, 1])
    .tickSize(5)
    .tickSizeOuter(0)
    .tickPadding(3)
    .tickFormat((d) => (d === 0 || d === 1 ? d3.format("d")(d) : ""));
  const ta = g.append("g").attr("transform", `translate(0,${cfg.top - 11})`).call(topAxis);
  ta.selectAll("path, line").attr("stroke", "#111").attr("stroke-width", 1.3);
  ta.selectAll("text").attr("fill", "#111").style("font-size", "16px");

  // scale bars
  drawScaleBar(g, cfg.leftBar, [cfg.leftBar.ticks[0], 0],
    [cfg.leftBarX0, cfg.leftBarX0 + cfg.leftBar.ticks[0] * cfg.leftPPU], 1113);
  drawScaleBar(g, cfg.rightBar, [0, 3], [cfg.rightBarX0, cfg.rightBarX0 + 3 * cfg.rightPPU], 1113);

  // headers
  const head = g.append("g").attr("fill", "#111");
  head.append("text").attr("x", cfg.letterX).attr("y", 61).style("font-size", "64px").text(cfg.letter);
  head.append("text").attr("x", cfg.titleX).attr("y", 43).attr("text-anchor", "middle")
    .style("font-size", "36px").style("font-style", "italic").text(cfg.title);
  head.append("line").attr("x1", cfg.ruleX[0]).attr("x2", cfg.ruleX[1]).attr("y1", 67).attr("y2", 67)
    .attr("stroke", "#111").attr("stroke-width", 2);
  const cols = [
    [cfg.colX[0], "Flexible", "genes", false],
    [cfg.colX[1], "petB", "marker", true],
    [cfg.colX[2], "ESTU relative", "abundance", false],
  ];
  cols.forEach(([x, a, b, it]) => {
    head.append("text").attr("x", x).attr("y", 101).attr("text-anchor", "middle")
      .style("font-size", "29px").style("font-style", it ? "italic" : null).text(a);
    head.append("text").attr("x", x).attr("y", 141).attr("text-anchor", "middle")
      .style("font-size", "29px").text(b);
  });

  // assemblage legend
  const leg = g.append("g");
  const t = leg.append("text").attr("x", cfg.assembX).attr("y", 1186).attr("text-anchor", "middle")
    .attr("fill", "#111").style("font-size", "29px");
  t.append("tspan").style("font-style", "italic").text(cfg.assembPrefix);
  t.append("tspan").text(" ESTU assemblages");
  const sw = leg.selectAll("g.sw")
    .data(cfg.groupColors)
    .join("g")
    .attr("class", "sw")
    .attr("transform", (d, i) => `translate(${cfg.swatchX0 + i * cfg.swatchStep},1210)`);
  sw.append("rect").attr("width", 28).attr("height", 30).attr("fill", (d) => d)
    .attr("stroke", "#555").attr("stroke-width", 1);
  sw.append("text").attr("x", 14).attr("y", 24).attr("text-anchor", "middle")
    .attr("fill", (d, i) => (i === cfg.whiteDigit ? "#fff" : "#111"))
    .style("font-size", "23px").text((d, i) => i + 1);

  // ESTU colour legend
  leg.append("text").attr("x", cfg.estuTitleX).attr("y", 1128).attr("text-anchor", "middle")
    .attr("fill", "#111").style("font-size", "29px").text("ESTUs");
  let start = 0;
  cfg.legendRows.forEach((count, r) => {
    const items = cfg.estu.slice(start, start + count).map((e, k) => ({ e, k, c: cfg.estuColors[start + k] }));
    start += count;
    const y0 = cfg.legendY[r];
    const rowG = leg.append("g");
    rowG.selectAll("rect")
      .data(items)
      .join("rect")
      .attr("x", (d) => cfg.legendX0 + d.k * cfg.legendW)
      .attr("y", y0)
      .attr("width", cfg.legendW)
      .attr("height", 17)
      .attr("fill", (d) => d.c);
    rowG.selectAll("text")
      .data(items)
      .join("text")
      .attr("transform", (d) => `translate(${cfg.legendX0 + d.k * cfg.legendW + cfg.legendW / 2 - 5},${y0 - 5}) rotate(-60)`)
      .attr("fill", "#111")
      .style("font-size", "16px")
      .text((d) => d.e);
  });
}

drawPanel({
  left: PROC_LEFT, right: PROC_RIGHT, leftGroup: PROC_LEFT_GROUP,
  textColors: PROC_TEXT_COLORS, groupColors: PROC_GROUP_COLORS,
  leftTree: PROC_LEFT_TREE, rightTree: PROC_RIGHT_TREE, rightGaps: PROC_RIGHT_GAPS,
  top: 168, bottom: 1060, fontSize: 16,
  leftLeafX: 156, leftPPU: 89.3, leftLabelX: 165,
  linkX: [292, 422], rightLabelX: 549, rightLeafX: 557, rightPPU: 43.7,
  barX: [727, 956], barH: 12,
  bars: PROC_BARS.map((row) => row.map((v, k) => [PROC_ESTU[k], v])),
  estu: PROC_ESTU, estuColors: PROC_ESTU_COLORS,
  leftBar: PROC_LEFT_BAR, leftBarX0: 33, rightBar: PROC_RIGHT_BAR, rightBarX0: 553,
  letter: "A", letterX: 0, title: "Prochlorococcus", titleX: 530, ruleX: [97, 956],
  colX: [210, 505, 843],
  assembX: 355, assembPrefix: "Proc.", swatchX0: 267, swatchStep: 36.3, whiteDigit: 2,
  estuTitleX: 836, legendRows: PROC_LEGEND_ROWS, legendX0: 771, legendW: 18.8, legendY: [1210, 1286],
});

drawPanel({
  left: SYN_LEFT, right: SYN_RIGHT, leftGroup: SYN_LEFT_GROUP,
  textColors: SYN_GROUP_COLORS, groupColors: SYN_GROUP_COLORS,
  leftTree: SYN_LEFT_TREE, rightTree: SYN_RIGHT_TREE, rightGaps: SYN_RIGHT_GAPS,
  top: 167, bottom: 1060, fontSize: 16.5,
  leftLeafX: 1205, leftPPU: 64.5, leftLabelX: 1214,
  linkX: [1343, 1472], rightLabelX: 1599, rightLeafX: 1605, rightPPU: 42,
  barX: [1784, 2011], barH: 12,
  bars: SYN_BARS.map((o) => SYN_STACK.filter((k) => o[k]).map((k) => [k, o[k]])),
  estu: SYN_ESTU, estuColors: SYN_ESTU_COLORS,
  leftBar: SYN_LEFT_BAR, leftBarX0: 1081, rightBar: SYN_RIGHT_BAR, rightBarX0: 1603,
  letter: "B", letterX: 1041, title: "Synechococcus", titleX: 1582, ruleX: [1158, 2011],
  colX: [1260, 1550, 1895],
  assembX: 1408, assembPrefix: "Syn.", swatchX0: 1262, swatchStep: 36.8, whiteDigit: 0,
  estuTitleX: 1886, legendRows: SYN_LEGEND_ROWS, legendX0: 1765, legendW: 18.9, legendY: [1200, 1299],
});
</script>
</body>
</html>
